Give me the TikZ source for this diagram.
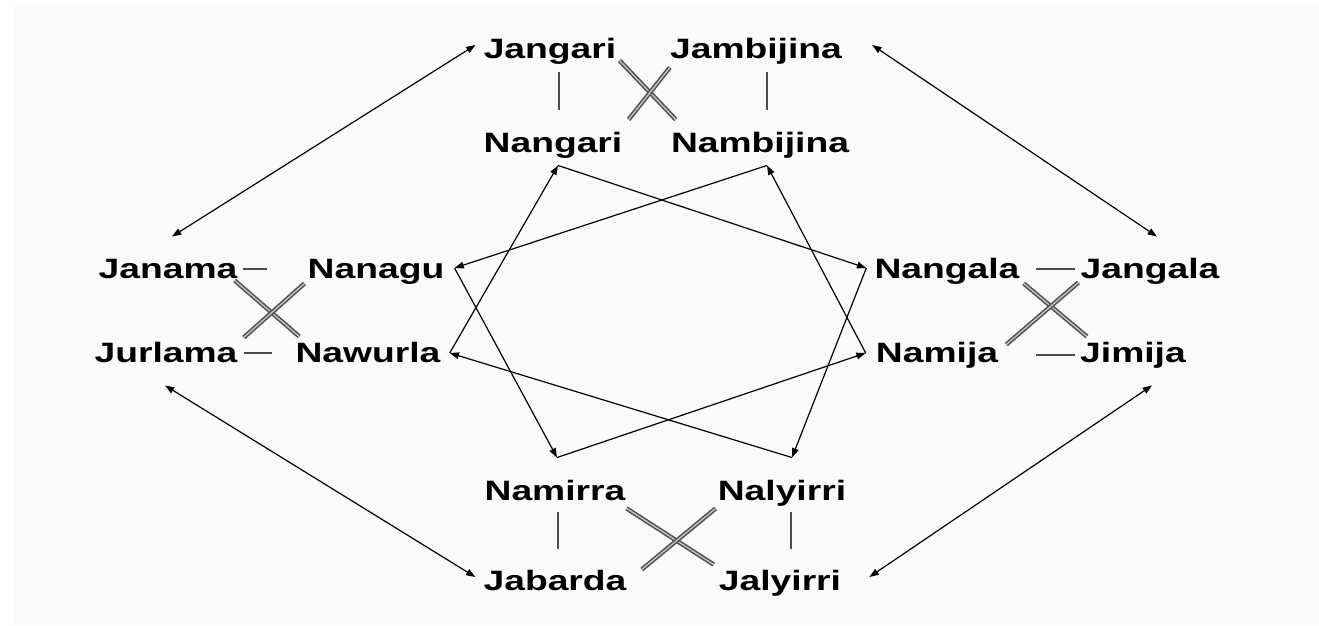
\documentclass[tikz,border=0pt]{standalone}
\usepackage{fontspec}
\newfontfamily\clanfont{Liberation Sans}[FakeStretch=1.33]
\usetikzlibrary{arrows.meta}

\tikzset{
    skin/.style={inner sep=0pt, text height=15.3pt, text depth=4.5pt,
        font=\clanfont\bfseries\fontsize{21pt}{24pt}\selectfont},
    tie/.style={draw=black!70, line width=0.9pt},
    wed/.style={draw=black!70, double=black!25, double distance=1.1pt, line width=1.1pt},
    flow/.style={-{Triangle[length=7pt,width=5pt]}, line width=0.9pt},
    swap/.style={{Triangle[length=7pt,width=5pt]}-{Triangle[length=7pt,width=5pt]}, line width=0.9pt}
}

\begin{document}
\begin{tikzpicture}[x=0.75pt, y=-0.75pt]
    \useasboundingbox (0,0) rectangle (1319,625);
    \fill[black!2] (15,5) rectangle (1319,625);

    % top group
    \draw node[skin] (jangari) at (550,51) {Jangari};
    \draw node[skin] (jambijina) at (756,51) {Jambijina};
    \draw node[skin] (nangari) at (553,145) {Nangari};
    \draw node[skin] (nambijina) at (760,145) {Nambijina};

    % left group
    \draw node[skin] (janama) at (168,271) {Janama};
    \draw node[skin] (nanagu) at (376,271) {Nanagu};
    \draw node[skin] (jurlama) at (166,355) {Jurlama};
    \draw node[skin] (nawurla) at (368,355) {Nawurla};

    % right group
    \draw node[skin] (nangala) at (947,271) {Nangala};
    \draw node[skin] (jangala) at (1150,271) {Jangala};
    \draw node[skin] (namija) at (937,355) {Namija};
    \draw node[skin] (jimija) at (1133,355) {Jimija};

    % bottom group
    \draw node[skin] (namirra) at (555,493) {Namirra};
    \draw node[skin] (nalyirri) at (782,493) {Nalyirri};
    \draw node[skin] (jabarda) at (555,583) {Jabarda};
    \draw node[skin] (jalyirri) at (780,583) {Jalyirri};

    % arrow ends in the middle ring
    \coordinate (nangari-in) at ([shift={(5,7)}]nangari.south);
    \coordinate (nambijina-in) at ([shift={(7,7)}]nambijina.south);
    \coordinate (nanagu-in) at ([shift={(10,-3)}]nanagu.east);
    \coordinate (nawurla-in) at ([shift={(9,-2)}]nawurla.east);
    \coordinate (nangala-in) at ([shift={(-8,-3)}]nangala.west);
    \coordinate (namija-in) at ([shift={(-10,-2)}]namija.west);
    \coordinate (namirra-in) at ([shift={(2,-22)}]namirra.north);
    \coordinate (nalyirri-in) at ([shift={(10,-22)}]nalyirri.north);

    % single ties
    \draw[tie] ([shift={(9,8)}]jangari.south) to ([shift={(9,-22)}]jangari.south |- nangari.north);
    \draw[tie] ([shift={(11,8)}]jambijina.south) to ([shift={(11,-22)}]jambijina.south |- nambijina.north);
    \draw[tie] ([shift={(3,6)}]namirra.south) to ([shift={(3,-21)}]namirra.south |- jabarda.north);
    \draw[tie] ([shift={(9,6)}]nalyirri.south) to ([shift={(9,-21)}]nalyirri.south |- jalyirri.north);
    \draw[tie] ([shift={(5,-2)}]janama.east) to ([shift={(-40,-2)}]nanagu.west);
    \draw[tie] ([shift={(6,-2)}]jurlama.east) to ([shift={(-23,-2)}]nawurla.west);
    \draw[tie] ([shift={(16,-2)}]nangala.east) to ([shift={(-5,-2)}]jangala.west);
    \draw[tie] ([shift={(38,0)}]namija.east) to ([shift={(-5,0)}]jimija.west);

    % double crosses
    \draw[wed] ([shift={(3,-4)}]jangari.south east) to ([shift={(5,-12)}]nambijina.north west);
    \draw[wed] ([shift={(0,3)}]jambijina.south west) to ([shift={(6,-12)}]nangari.north east);
    \draw[wed] ([shift={(-3,-4)}]janama.south east) to ([shift={(4,-5)}]nawurla.north west);
    \draw[wed] ([shift={(-3,-1)}]nanagu.south west) to ([shift={(6,-4)}]jurlama.north east);
    \draw[wed] ([shift={(4,-1)}]nangala.south east) to ([shift={(7,-5)}]jimija.north west);
    \draw[wed] ([shift={(-2,-2)}]jangala.south west) to ([shift={(8,3)}]namija.north east);
    \draw[wed] ([shift={(1,2)}]namirra.south east) to ([shift={(-5,-5)}]jalyirri.north west);
    \draw[wed] ([shift={(-2,2)}]nalyirri.south west) to ([shift={(15,0)}]jabarda.north east);

    % outer arrows
    \draw[swap] ([shift={(-8,-6)}]jangari.west) to ([shift={(4,-21)}]janama.north);
    \draw[swap] ([shift={(30,-6)}]jambijina.east) to ([shift={(7,-21)}]jangala.north);
    \draw[swap] ([shift={(-1,17)}]jurlama.south) to ([shift={(-8,-6)}]jabarda.west);
    \draw[swap] ([shift={(19,17)}]jimija.south) to ([shift={(28,-6)}]jalyirri.east);

    % inner ring
    \draw[flow] (nangari-in) to (nangala-in);
    \draw[flow] (nangala-in) to (nalyirri-in);
    \draw[flow] (nalyirri-in) to (nawurla-in);
    \draw[flow] (nawurla-in) to (nangari-in);
    \draw[flow] (nambijina-in) to (nanagu-in);
    \draw[flow] (nanagu-in) to (namirra-in);
    \draw[flow] (namirra-in) to (namija-in);
    \draw[flow] (namija-in) to (nambijina-in);
\end{tikzpicture}
\end{document}
